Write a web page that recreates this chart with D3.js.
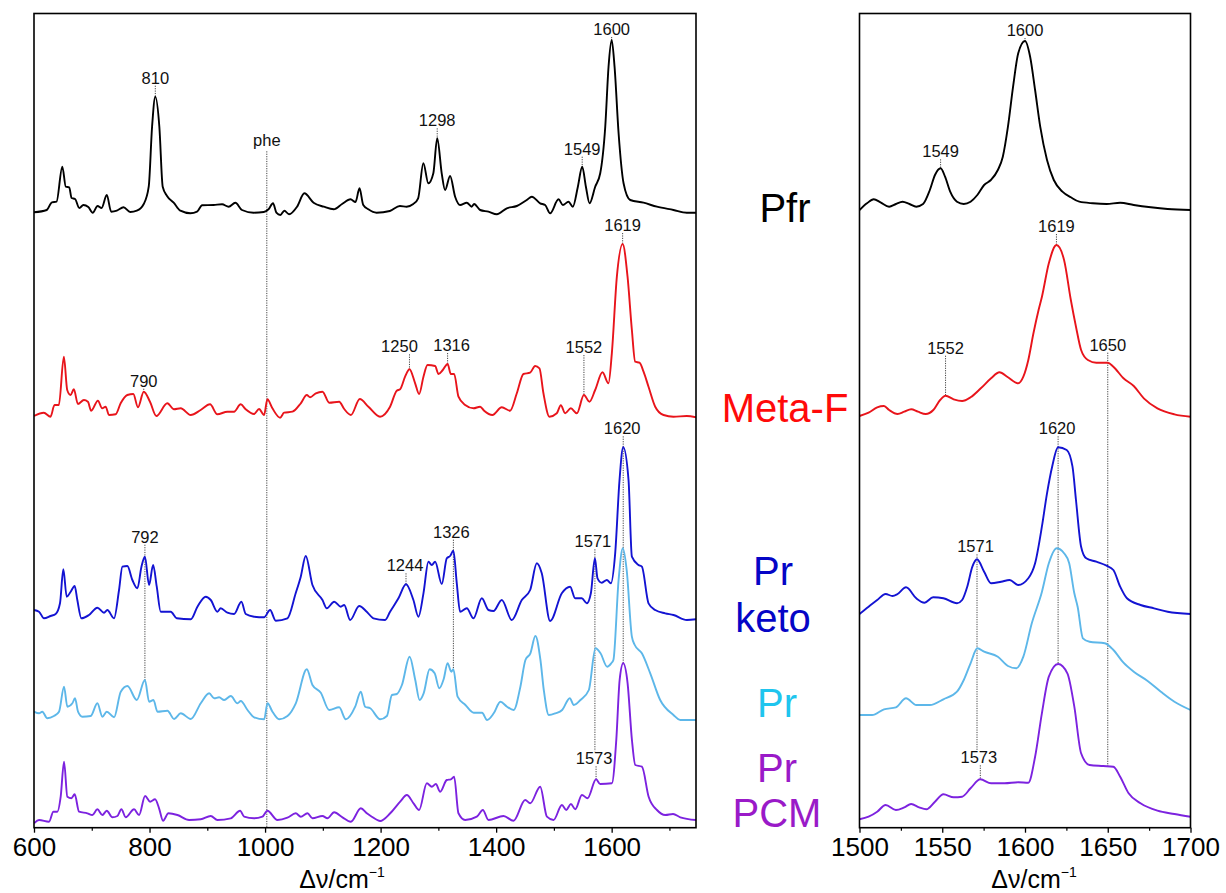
<!DOCTYPE html>
<html>
<head>
<meta charset="utf-8">
<script src="https://cdn.jsdelivr.net/npm/d3@7"></script>
<style>
  body { margin: 0; background: #fff; }
  svg { display: block; }
  text { font-family: "Liberation Sans", Arial, Helvetica, sans-serif; }
</style>
</head>
<body>
<svg id="chart" width="1226" height="893"></svg>
<script>
// ---------------------------------------------------------------
// Raman spectra, [wavenumber (cm-1), relative intensity (a.u.)]
// Full range 600-1746 cm-1
// ---------------------------------------------------------------
const pfrWide = [[600,.054],[622,.077],[631,.154],[639,.16],[649,.51],[655,.31],[661,.304],[665,.197],[671,.187],[678.5,.097],[685.5,.127],[694,.107],[701.7,.05],[710,.117],[717,.097],[726,.227],[733.6,.06],[743.4,.07],[755,.104],[766.6,.057],[778,.07],[790,.137],[798.6,.31],[804.4,.91],[810,1.21],[817,.91],[822.8,.31],[830.3,.217],[841.8,.15],[853.4,.07],[870.7,.044],[882.3,.06],[891,.124],[911,.127],[925.5,.134],[937,.11],[948.6,.15],[960,.077],[980,.05],[997.7,.057],[1006,.084],[1013.8,.144],[1019.6,.05],[1026.5,.027],[1033.4,.07],[1041.5,.034],[1055.4,.11],[1068,.244],[1084,.15],[1101.6,.11],[1119,.084],[1133.3,.137],[1148,.184],[1156.6,.157],[1163.5,.294],[1170,.127],[1178.8,.084],[1193,.05],[1216,.067],[1233.4,.117],[1245,.11],[1256.6,.137],[1265,.194],[1274,.544],[1282.7,.344],[1291.3,.444],[1298,.794],[1305.8,.444],[1311.6,.277],[1320.3,.417],[1329,.21],[1337.6,.127],[1349.2,.15],[1357.8,.11],[1361.9,.137],[1372.3,.077],[1386.7,.06],[1401.2,.034],[1418.5,.094],[1435.8,.117],[1453,.177],[1461.8,.21],[1476.2,.144],[1484.8,.127],[1493.5,.044],[1508,.184],[1515.5,.127],[1525.3,.16],[1532.8,.11],[1541.5,.31],[1549,.51],[1555.4,.31],[1561.7,.144],[1571.5,.31],[1580.2,.444],[1588.9,.91],[1594.6,1.51],[1600,1.777],[1605,1.51],[1612,.844],[1620.6,.344],[1632.1,.177],[1655.2,.15],[1678.3,.11],[1707,.077],[1730,.05],[1746,.05]];

const metaWide = [[600,.017],[617,.05],[628.6,.01],[635.5,.127],[643,.127],[651.7,.61],[657.5,.277],[663.3,.227],[669,.284],[676,.137],[686.4,.177],[693.3,.16],[699,.07],[710.6,.17],[718,.094],[724,.11],[729.8,.027],[741.3,.034],[750,.144],[761.5,.227],[771.9,.237],[780,.104],[790,.26],[800.8,.16],[811.7,.017],[830.8,.144],[842.3,.084],[853.9,.094],[871.2,.027],[888.5,.077],[904.7,.134],[917.4,.034],[934.7,.06],[946.3,.06],[957.8,.134],[966.5,.084],[980.9,.037],[989.6,.087],[998.3,.027],[1004,.184],[1012.7,.094],[1026,0],[1033,.05],[1047.4,.06],[1061.8,.144],[1072.2,.227],[1078,.204],[1087.9,.244],[1099.4,.26],[1111,.15],[1128.3,.16],[1137,.087],[1148.6,.027],[1164,.187],[1178.9,.11],[1199,.01],[1216.4,.11],[1228,.27],[1233.8,.284],[1242.4,.41],[1250,.484],[1259.8,.344],[1266.7,.237],[1274.2,.41],[1281.2,.527],[1294.4,.517],[1300.2,.437],[1307.7,.477],[1316,.537],[1321.6,.437],[1327.3,.437],[1334.8,.21],[1346.4,.127],[1360.8,.094],[1372.3,.11],[1379.2,.07],[1393.6,.027],[1409.8,.104],[1424.2,.07],[1435.8,.244],[1447.3,.437],[1458.8,.45],[1467.5,.517],[1475,.494],[1481.9,.244],[1492.3,.01],[1505,.044],[1512,.124],[1519.5,.044],[1529.3,.094],[1539.7,.044],[1552,.227],[1561.6,.16],[1571.4,.277],[1584.1,.454],[1594.5,.344],[1600.3,.644],[1609,1.41],[1619,1.737],[1627.5,1.41],[1635,.877],[1640.7,.56],[1648.2,.55],[1655.2,.46],[1663.8,.31],[1675.4,.11],[1689.8,.027],[1707,.01],[1730,.017],[1746,.004]];

const ketoWide = [[600,.127],[608.7,.11],[617.3,.044],[628.8,.067],[637.5,.087],[645,.194],[650.8,.534],[656.6,.26],[663.5,.31],[670.4,.367],[675,.227],[682,.044],[695.2,.077],[709.7,.15],[721.2,.1],[727,.127],[738.5,.044],[747.2,.327],[753,.56],[761.6,.567],[770.3,.427],[779,.344],[786,.56],[792,.66],[799.2,.377],[806.2,.577],[812.5,.36],[819.4,.11],[836.7,.11],[847.1,.044],[871.4,.034],[882.9,.16],[897.3,.26],[906,.227],[917.5,.11],[923.2,.144],[934.8,.1],[946.3,.087],[959,.21],[966.5,.087],[981,.06],[998.3,.054],[1008.7,.127],[1018.5,.02],[1038.7,.044],[1053,.294],[1061.8,.46],[1070.4,.667],[1082,.377],[1099.4,.227],[1106.9,.144],[1119.6,.21],[1131.1,.16],[1137,.177],[1147.3,.027],[1162.9,.167],[1176,.11],[1187.6,.044],[1207.8,.027],[1216.4,.11],[1230.9,.244],[1244,.384],[1256.8,.227],[1265.5,.06],[1274.2,.294],[1282.8,.61],[1288.6,.577],[1294.4,.61],[1305.9,.387],[1314.6,.644],[1320.3,.667],[1326,.72],[1331.9,.394],[1337.6,.11],[1349.2,.144],[1360.8,.044],[1375.2,.244],[1386.7,.127],[1395.4,.117],[1409.8,.227],[1427.1,.027],[1444.4,.227],[1458.9,.327],[1470.4,.594],[1479,.494],[1493.5,.017],[1513.7,.294],[1528.1,.36],[1536.8,.244],[1548.3,.244],[1557,.194],[1564,.294],[1571,.644],[1575.5,.444],[1583,.4],[1591.7,.427],[1598.6,.394],[1606.1,.694],[1613.6,1.427],[1620,1.754],[1629.2,1.427],[1635,.66],[1646.5,.577],[1652.3,.56],[1663.8,.194],[1675.4,.127],[1692.7,.094],[1707.1,.077],[1730.2,.027],[1746,.034]];

const prWide = [[600,.11],[608.7,.094],[614.4,.11],[623,.044],[634.6,.067],[643.3,.11],[652,.36],[657.7,.16],[666.4,.194],[671,.244],[676.2,.11],[683.7,.06],[698.2,.067],[709.7,.194],[718.4,.06],[725.9,.11],[738.6,.054],[750.2,.31],[761.8,.367],[777.9,.227],[792,.427],[799.3,.21],[806.8,.227],[813.7,.11],[831,.12],[842.6,.037],[854.1,.094],[871.4,.037],[888.7,.194],[903.2,.294],[911.8,.244],[920.5,.254],[929.2,.227],[940.7,.267],[952.2,.194],[958,.217],[969.6,.127],[981.1,.054],[998.4,.034],[1004.2,.194],[1012.8,.11],[1024.4,.034],[1038.8,.067],[1053.2,.194],[1072.3,.534],[1082,.377],[1096.5,.3],[1111,.127],[1128.3,.154],[1139.8,.034],[1156,.16],[1165.7,.31],[1173.2,.16],[1182,.144],[1199.4,.034],[1210.9,.067],[1219.6,.277],[1228.2,.287],[1236.9,.377],[1250.2,.66],[1260,.427],[1267.5,.227],[1274.5,.294],[1284.9,.534],[1293.6,.494],[1301.6,.344],[1309.1,.434],[1316,.594],[1322.4,.51],[1326,.534],[1333.3,.26],[1346.8,.177],[1361.2,.1],[1375.6,.1],[1384.3,.027],[1395.8,.094],[1407.4,.21],[1418.9,.16],[1430.4,.127],[1442,.36],[1450.7,.627],[1459.3,.694],[1468,.867],[1476.7,.627],[1482.5,.327],[1491.2,.077],[1502.7,.094],[1514.3,.127],[1527.5,.244],[1534.5,.177],[1546,.227],[1560.5,.327],[1572,.744],[1580.7,.694],[1592.2,.56],[1599.2,.594],[1603,.627],[1612,1.427],[1619.3,1.744],[1626,1.527],[1635,.86],[1640,.777],[1652.3,.694],[1666.8,.494],[1684,.227],[1707,.077],[1718.7,.027],[1746,.027]];

const pcmWide = [[600,.044],[608.7,.077],[626,.06],[633.5,.16],[640.4,.16],[646.2,.31],[652,.66],[657.7,.31],[664.7,.294],[670.4,.334],[678,.16],[692.4,.144],[701,.127],[709.7,.184],[718.4,.127],[725.9,.17],[735.7,.104],[744.4,.117],[751.3,.184],[758.8,.104],[773.2,.184],[781.9,.127],[792.3,.317],[800.9,.26],[809.6,.284],[816.5,.194],[823.4,.07],[832.7,.144],[848.3,.127],[868.5,.077],[888.7,.084],[906,.117],[917.5,.077],[940.6,.094],[956.8,.17],[963.7,.11],[981,.094],[995.4,.11],[1004,.17],[1021.4,.077],[1038.7,.1],[1053.1,.144],[1061.8,.11],[1073.4,.144],[1082,.094],[1099.3,.117],[1108,.094],[1119.6,.154],[1134,.104],[1148.5,.06],[1165.8,.194],[1176.2,.144],[1184.8,.11],[1199.3,.067],[1216.6,.144],[1233.9,.26],[1245.4,.327],[1257,.244],[1266.7,.177],[1280,.444],[1288.7,.41],[1295.6,.437],[1303.1,.36],[1314.6,.477],[1321.6,.484],[1327.3,.51],[1334.8,.144],[1346.4,.077],[1366.6,.11],[1377,.177],[1386.8,.077],[1412.8,.117],[1430.1,.07],[1450.3,.277],[1459,.244],[1476.3,.41],[1487.9,.11],[1499.4,.077],[1513.9,.227],[1521.4,.177],[1529.4,.237],[1537,.184],[1548.5,.327],[1558.3,.294],[1573,.484],[1580.2,.437],[1600.4,.444],[1608,.877],[1613.8,1.477],[1620,1.644],[1627.6,1.444],[1635.1,.877],[1640.9,.627],[1652.4,.61],[1664,.31],[1678.4,.177],[1692.9,.127],[1706.2,.137],[1718.9,.104],[1746,.077]];

// Expanded 1500-1700 cm-1 region
const pfrZoom = [[1500,.077],[1504.5,.144],[1508.6,.184],[1512.7,.154],[1517.9,.11],[1522,.137],[1526,.16],[1530.2,.137],[1534.3,.11],[1538.4,.137],[1542.5,.277],[1545.6,.427],[1549,.494],[1551.7,.41],[1554.8,.26],[1558.9,.16],[1563,.137],[1567.1,.16],[1571.2,.227],[1575.3,.327],[1579.4,.377],[1583.6,.477],[1586.6,.61],[1589.7,.91],[1592.8,1.31],[1595.9,1.644],[1600,1.767],[1603.1,1.61],[1606.1,1.277],[1609.2,.91],[1613.3,.577],[1617.4,.377],[1622.6,.26],[1627.7,.204],[1632.8,.16],[1641,.144],[1649.3,.137],[1657.5,.15],[1665.7,.127],[1676,.104],[1686.2,.087],[1700,.077]];

const metaZoom = [[1500,.017],[1505.5,.05],[1510.7,.104],[1514.8,.117],[1517.9,.077],[1523,.037],[1527.1,.06],[1531.2,.084],[1535.3,.06],[1540,.037],[1544.6,.077],[1548.7,.177],[1552,.22],[1556.9,.184],[1562,.167],[1567.1,.204],[1573.3,.294],[1579.5,.394],[1584.6,.454],[1589.7,.404],[1595.9,.344],[1599,.41],[1602,.577],[1605.1,.844],[1608.2,1.077],[1610.2,1.207],[1614.4,1.544],[1619,1.727],[1623.6,1.577],[1627.7,1.177],[1630.8,.91],[1633.9,.677],[1638,.577],[1643.1,.55],[1650,.55],[1653.4,.51],[1659.5,.394],[1665.7,.317],[1671.8,.194],[1680,.094],[1690.3,.034],[1700,.01]];

const ketoZoom = [[1500,.087],[1505.5,.16],[1510.7,.227],[1515.8,.287],[1519.9,.267],[1523,.287],[1528.1,.354],[1534.3,.244],[1539.3,.2],[1544.5,.254],[1550.7,.244],[1558.9,.194],[1562,.227],[1565.1,.36],[1568.2,.56],[1571,.634],[1575.3,.51],[1579.5,.394],[1585.6,.41],[1590.7,.427],[1595.9,.377],[1602,.444],[1606.1,.594],[1610.2,.96],[1613.3,1.294],[1616.4,1.56],[1620,1.754],[1625.2,1.727],[1628.7,1.56],[1630.8,1.227],[1633.9,.76],[1637,.644],[1643.1,.61],[1649.3,.57],[1653.4,.527],[1657.5,.36],[1661.6,.244],[1669.8,.177],[1678,.144],[1686.2,.11],[1700,.087]];

const prZoom = [[1500,.077],[1507.6,.077],[1514.8,.134],[1522,.154],[1528.1,.244],[1534.3,.177],[1542.5,.177],[1550.7,.234],[1558.9,.31],[1563,.427],[1567.1,.594],[1571.2,.744],[1575.3,.71],[1583.6,.66],[1589.7,.567],[1594.8,.544],[1599,.66],[1604.1,.994],[1610.2,1.307],[1614.4,1.594],[1619.1,1.744],[1623.6,1.694],[1626.7,1.594],[1629.8,1.294],[1631.8,1.16],[1635,.844],[1639,.81],[1648.2,.794],[1653.4,.727],[1659.5,.6],[1665.7,.51],[1673.9,.42],[1682.1,.31],[1690.3,.21],[1700,.127]];

const pcmZoom = [[1500,.084],[1505.5,.11],[1510.7,.16],[1515.8,.227],[1522,.177],[1527.1,.204],[1531.2,.237],[1536,.204],[1540.4,.184],[1545.6,.26],[1550.7,.334],[1556.9,.304],[1562,.31],[1567.1,.394],[1573,.484],[1579.5,.444],[1587.7,.444],[1595.9,.454],[1602,.45],[1606.1,.71],[1610.2,1.144],[1614.4,1.51],[1620,1.637],[1625.6,1.544],[1629.8,1.21],[1633.9,.744],[1639,.627],[1647.2,.617],[1653.4,.61],[1657.5,.51],[1662.6,.344],[1669.8,.244],[1680,.17],[1690.3,.137],[1700,.11]];

// Vertical stacking offsets (a.u.) for each spectrum
const seriesKeys = ["pfr", "meta", "keto", "pr", "pcm"];
const stackOffsets = { pfr: 6.1, meta: 4.1, keto: 2.05, pr: 1.05, pcm: 0 };
const wideSpectra = { pfr: pfrWide, meta: metaWide, keto: ketoWide, pr: prWide, pcm: pcmWide };
const zoomSpectra = { pfr: pfrZoom, meta: metaZoom, keto: ketoZoom, pr: prZoom, pcm: pcmZoom };

// Species names (one line each entry)
const speciesNames = {
  pfr: ["Pfr"], meta: ["Meta-F"], keto: ["Pr", "keto"], pr: ["Pr"], pcm: ["Pr", "PCM"]
};

// Axis ticks
const wideMajorTicks = [600, 800, 1000, 1200, 1400, 1600];
const wideMinorTicks = [700, 900, 1100, 1300, 1500, 1700];
const zoomMajorTicks = [1500, 1550, 1600, 1650, 1700];
const zoomMinorTicks = [1525, 1575, 1625, 1675];
const axisTitle = "Δν/cm";

// Band assignments: label, position, spectrum it sits on, and where the guide ends
const wideBands = [
  { text: "810", wn: 810, on: "pfr" },
  { text: "phe", wn: 1003, on: "pfr", to: "axis" },
  { text: "1298", wn: 1298, on: "pfr" },
  { text: "1549", wn: 1549, on: "pfr" },
  { text: "1600", wn: 1600, on: "pfr" },
  { text: "790", wn: 790, on: "meta" },
  { text: "1250", wn: 1250, on: "meta" },
  { text: "1316", wn: 1316, on: "meta" },
  { text: "1552", wn: 1552, on: "meta" },
  { text: "1619", wn: 1619, on: "meta" },
  { text: "792", wn: 792, on: "keto", to: "pr" },
  { text: "1244", wn: 1244, on: "keto" },
  { text: "1326", wn: 1326, on: "keto", to: "pr" },
  { text: "1571", wn: 1571, on: "keto", to: "1573" },
  { text: "1620", wn: 1620, on: "keto", to: "pcm" },
  { text: "1573", wn: 1573, on: "pcm" }
];
const zoomBands = [
  { text: "1549", wn: 1549, on: "pfr" },
  { text: "1600", wn: 1600, on: "pfr" },
  { text: "1552", wn: 1552, on: "meta" },
  { text: "1619", wn: 1619, on: "meta" },
  { text: "1650", wn: 1650, on: "meta", to: "pcm" },
  { text: "1571", wn: 1571, on: "keto", to: "1573" },
  { text: "1620", wn: 1620, on: "keto", to: "pcm" },
  { text: "1573", wn: 1573, on: "pcm" }
];

// ---------------------------------------------------------------
// Styling and layout
// ---------------------------------------------------------------
const lineColors = { pfr: "#000000", meta: "#e8141b", keto: "#1313d2", pr: "#5db7e9", pcm: "#7c22df" };
const nameColors = { pfr: "#000000", meta: "#ff0a0a", keto: "#0505c6", pr: "#1fc5ee", pcm: "#9a1ac8" };
// distance (px) from the band maximum to the label baseline
const labelGapWide = { "810": 13, "phe": 64, "1298": 12, "1549": 12, "1600": 5, "790": 5, "1250": 17,
  "1316": 13, "1552": 42, "1619": 13, "792": 14, "1244": 13, "1326": 13, "1571": 11, "1620": 13, "1573": 15 };
const labelGapZoom = { "1549": 11, "1600": 5, "1552": 42, "1619": 13, "1650": 12, "1571": 7, "1620": 13, "1573": 16 };
// horizontal nudges (px) of labels relative to their guide line
const labelShiftWide = { "1250": -10, "1316": 4, "1326": -2, "1571": -2, "1573": -2, "1244": -1, "1620": -1 };
const labelShiftZoom = { "1571": -1.5, "1573": -1.5, "1620": -1 };
const nameLayout = {
  pfr:  { x: 785, y: [221.7] },
  meta: { x: 785, y: [421.7] },
  keto: { x: 773, y: [585, 631.7] },
  pr:   { x: 777, y: [716.7] },
  pcm:  { x: 777, y: [781.7, 827.3] }
};

const plotTop = 13.5, plotBottom = 827.7;
const svg = d3.select("#chart");

const y = d3.scaleLinear().domain([0, 8.142]).range([plotBottom, plotTop]);
const xWide = d3.scaleLinear().domain([600, 1746]).range([34, 696]);
const xZoom = d3.scaleLinear().domain([1500, 1700]).range([859.5, 1190.5]);

function valueAt(data, wn) {
  const i = d3.bisector(d => d[0]).left(data, wn);
  if (i <= 0) return data[0][1];
  if (i >= data.length) return data[data.length - 1][1];
  const a = data[i - 1], b = data[i];
  if (b[0] === wn) return b[1];
  const t = (wn - a[0]) / (b[0] - a[0]);
  return a[1] + t * (b[1] - a[1]);
}

function drawPanel(id, x, spectra, bands, gaps, shifts, majors, minors, titleX) {
  const g = svg.append("g").attr("class", "panel-" + id);
  const [x0, x1] = x.range();

  g.append("clipPath").attr("id", "clip-" + id)
    .append("rect").attr("x", x0).attr("y", plotTop).attr("width", x1 - x0).attr("height", plotBottom - plotTop);

  // guide lines and band labels
  const labelBase = {};
  bands.forEach(b => {
    const yv = y(stackOffsets[b.on] + valueAt(spectra[b.on], b.wn));
    labelBase[b.text] = yv - gaps[b.text];
  });
  const guides = g.append("g").attr("clip-path", `url(#clip-${id})`);
  bands.forEach(b => {
    const base = labelBase[b.text];
    let yEnd;
    if (b.to === "axis") yEnd = plotBottom;
    else if (b.to && spectra[b.to]) yEnd = y(stackOffsets[b.to] + valueAt(spectra[b.to], b.wn));
    else if (b.to) yEnd = labelBase[b.to] - 13;
    else yEnd = y(stackOffsets[b.on] + valueAt(spectra[b.on], b.wn));
    const yStart = base + (b.text === "phe" ? 5 : 2);
    guides.append("line")
      .attr("x1", x(b.wn)).attr("x2", x(b.wn))
      .attr("y1", yStart).attr("y2", yEnd)
      .attr("stroke", "#444").attr("stroke-width", 1)
      .attr("stroke-dasharray", "1.2,1.2");
  });

  // spectra
  const line = d3.line()
    .x(d => x(d[0]))
    .curve(d3.curveMonotoneX);
  const traces = g.append("g").attr("clip-path", `url(#clip-${id})`);
  seriesKeys.forEach(k => {
    traces.append("path")
      .datum(spectra[k])
      .attr("fill", "none")
      .attr("stroke", lineColors[k])
      .attr("stroke-width", 1.9)
      .attr("stroke-linejoin", "round")
      .attr("d", line.y(d => y(stackOffsets[k] + d[1])));
  });

  bands.forEach(b => {
    g.append("text")
      .attr("x", x(b.wn) + (shifts[b.text] || 0)).attr("y", labelBase[b.text])
      .attr("text-anchor", "middle")
      .attr("font-size", 16.5)
      .attr("fill", "#111")
      .text(b.text);
  });

  // frame
  g.append("rect")
    .attr("x", x0).attr("y", plotTop).attr("width", x1 - x0).attr("height", plotBottom - plotTop)
    .attr("fill", "none").attr("stroke", "#000").attr("stroke-width", 1.6);

  // axis
  const major = d3.axisBottom(x).tickValues(majors).tickSize(5).tickPadding(5).tickFormat(d3.format("d"));
  const minor = d3.axisBottom(x).tickValues(minors).tickSize(3).tickFormat("");
  const ax = g.append("g").attr("transform", `translate(0,${plotBottom})`).call(major);
  ax.select(".domain").remove();
  ax.selectAll("line").attr("stroke", "#000").attr("stroke-width", 1.3);
  ax.selectAll("text").attr("font-size", 26).attr("fill", "#000")
    .style("font-family", '"Liberation Sans", Arial, sans-serif');
  const axm = g.append("g").attr("transform", `translate(0,${plotBottom})`).call(minor);
  axm.select(".domain").remove();
  axm.selectAll("line").attr("stroke", "#000").attr("stroke-width", 1.2);

  const title = g.append("text")
    .attr("x", titleX).attr("y", 888)
    .attr("text-anchor", "middle")
    .attr("font-size", 25)
    .attr("fill", "#000");
  title.append("tspan").text(axisTitle);
  title.append("tspan").attr("font-size", 14).attr("dy", -11).text("−1");
}

drawPanel("wide", xWide, wideSpectra, wideBands, labelGapWide, labelShiftWide, wideMajorTicks, wideMinorTicks, 342);
drawPanel("zoom", xZoom, zoomSpectra, zoomBands, labelGapZoom, labelShiftZoom, zoomMajorTicks, zoomMinorTicks, 1034);

// species names between the panels
seriesKeys.forEach(k => {
  speciesNames[k].forEach((s, i) => {
    svg.append("text")
      .attr("x", nameLayout[k].x).attr("y", nameLayout[k].y[i])
      .attr("text-anchor", "middle")
      .attr("font-size", 40)
      .attr("fill", nameColors[k])
      .text(s);
  });
});
</script>
</body>
</html>
